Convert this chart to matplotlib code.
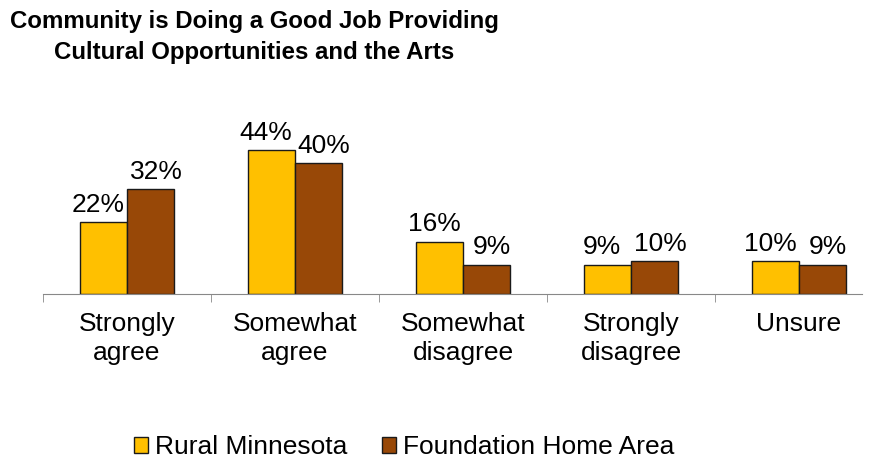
import numpy as np
import matplotlib.pyplot as plt

plt.rcParams['font.family'] = ['Liberation Sans', 'DejaVu Sans']

categories = ['Strongly\nagree', 'Somewhat\nagree', 'Somewhat\ndisagree', 'Strongly\ndisagree', 'Unsure']
rural = [22, 44, 16, 9, 10]
foundation = [32, 40, 9, 10, 9]
series_names = ['Rural Minnesota', 'Foundation Home Area']
colors = ['#FFC000', '#984807']

fig = plt.figure(figsize=(8.78, 4.61), dpi=100)
ax = fig.add_axes([0.049, 0.362, 0.9328, 0.355])

x = np.arange(len(categories))
w = 0.28
b1 = ax.bar(x - w / 2, rural, w, color=colors[0], edgecolor='#1a1a1a', linewidth=1, label=series_names[0])
b2 = ax.bar(x + w / 2, foundation, w, color=colors[1], edgecolor='#1a1a1a', linewidth=1, label=series_names[1])

# labels sit a little outward from each bar's centre, as in the original
for bars, dx in ((b1, -4), (b2, 4)):
    for r in bars:
        ax.annotate(f'{r.get_height():.0f}%', (r.get_x() + r.get_width() / 2, r.get_height()),
                    xytext=(dx, 4), textcoords='offset points', ha='center', va='bottom', fontsize=19)

ax.set_xlim(-0.5, 4.375)
ax.set_ylim(0, 50)
ax.set_yticks([])
for s in ['top', 'right', 'left']:
    ax.spines[s].set_visible(False)
ax.spines['bottom'].set_color('#888888')
ax.set_xticks(x)
ax.set_xticklabels(categories, fontsize=19, linespacing=1.25)
ax.tick_params(axis='x', which='major', length=0, pad=13)
ax.set_xticks(np.arange(-0.5, 4.4, 1), minor=True)
ax.tick_params(axis='x', which='minor', length=6, color='#888888')

fig.text(0.29, 0.978, 'Community is Doing a Good Job Providing\nCultural Opportunities and the Arts',
         ha='center', va='top', fontsize=17.3, fontweight='bold', linespacing=1.45)

fig.legend(loc='center', bbox_to_anchor=(0.46, 0.03), ncol=2, frameon=False, fontsize=19,
           handlelength=0.55, handleheight=0.55, handletextpad=0.25, columnspacing=1.3)

fig.savefig('out.png', dpi=100)
